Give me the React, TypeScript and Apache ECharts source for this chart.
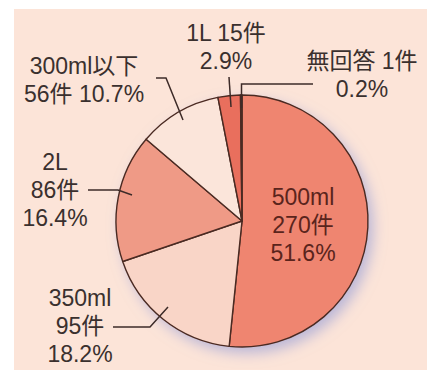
import React, { useEffect, useRef } from "react";
import * as echarts from "echarts";

const categories = ["500ml", "350ml", "2L", "300ml以下", "1L", "無回答"];
const counts = [270, 95, 86, 56, 15, 1];
const percents = ["51.6%", "18.2%", "16.4%", "10.7%", "2.9%", "0.2%"];
// label arrangement: 0 = name / count / pct, 1 = name / count pct, 2 = name count / pct
const labelArrangement = [0, 0, 0, 1, 2, 2];

const sliceColors = ["#ef8570", "#f9d5c7", "#ef9a86", "#fbe5da", "#e96f5d", "#e96f5d"];
const labelCenters: [number, number][] = [
  [303, 225],
  [80, 326],
  [55, 190],
  [84, 80],
  [226, 47],
  [362, 75],
];
const leaderLines: [number, number][][] = [
  [[156, 78], [166, 78], [183, 120]],
  [[229, 77], [231, 107]],
  [[313, 84], [241.5, 84], [241.5, 108]],
  [[88, 190], [118, 190], [132, 195]],
  [[113, 327], [150, 327], [168, 307]],
];

const FONT = 'Arial, "Liberation Sans", "Noto Sans CJK JP", sans-serif';

export default function App() {
  const ref = useRef<HTMLDivElement>(null);
  useEffect(() => {
    if (!ref.current) return;
    const chart = echarts.init(ref.current, undefined, { renderer: "svg" });
    const data = categories.map((name, i) => ({
      name,
      value: counts[i],
      itemStyle: { color: sliceColors[i] },
      label: i === 0 ? { color: "#5a241c" } : undefined,
    }));
    chart.setOption({
      animation: false,
      backgroundColor: "#ffffff",
      graphic: [
        {
          type: "rect",
          z: -10,
          silent: true,
          shape: { x: 14, y: 9, width: 413, height: 361 },
          style: { fill: "#fce4d8" },
        },
        ...leaderLines.map((pts) => ({
          type: "polyline",
          z: 100,
          silent: true,
          shape: { points: pts },
          style: { stroke: "#3d2b28", lineWidth: 1.5, fill: null },
        })),
      ],
      series: [
        {
          type: "pie",
          silent: true,
          z: 1,
          center: [242, 221],
          radius: 126,
          label: { show: false },
          labelLine: { show: false },
          data: [
            {
              value: 1,
              itemStyle: {
                color: "#ef8570",
                shadowBlur: 14,
                shadowColor: "rgba(140,150,215,0.6)",
                shadowOffsetX: 5,
                shadowOffsetY: 6,
              },
            },
          ],
        },
        {
          type: "pie",
          z: 2,
          center: [242, 221],
          radius: 126,
          startAngle: 90,
          clockwise: true,
          avoidLabelOverlap: false,
          itemStyle: { borderColor: "#4a2a22", borderWidth: 1.4 },
          label: {
            show: true,
            position: "inside",
            color: "#3a302e",
            fontFamily: FONT,
            fontSize: 23,
            lineHeight: 28,
            align: "center",
            formatter: (p: any) => {
              const i = p.dataIndex;
              const name = categories[i];
              const cnt = counts[i] + "件";
              const pct = percents[i];
              const a = labelArrangement[i];
              if (a === 0) return `${name}\n${cnt}\n${pct}`;
              if (a === 1) return `${name}\n${cnt} ${pct}`;
              return `${name} ${cnt}\n${pct}`;
            },
          },
          labelLine: { show: false },
          labelLayout: (p: any) => {
            const c = labelCenters[p.dataIndex];
            return { x: c[0], y: c[1], align: "center", verticalAlign: "middle" };
          },
          emphasis: { disabled: true },
          data,
        },
      ],
    });
    return () => chart.dispose();
  }, []);
  return (
    <div
      ref={ref}
      style={{ position: "absolute", left: 0, top: 0, width: 437, height: 370 }}
    />
  );
}
